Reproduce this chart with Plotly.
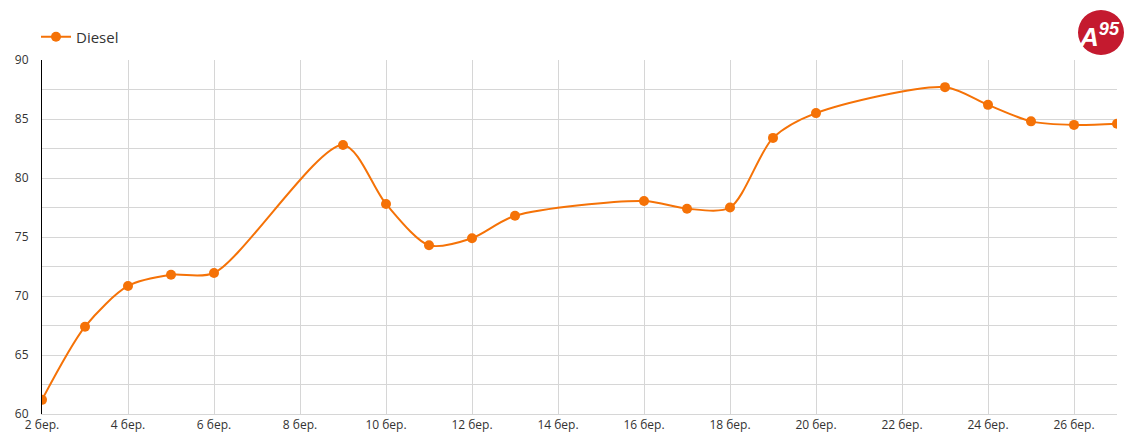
import plotly.graph_objects as go

dates = ["2024-03-02", "2024-03-03", "2024-03-04", "2024-03-05", "2024-03-06",
         "2024-03-09", "2024-03-10", "2024-03-11", "2024-03-12", "2024-03-13",
         "2024-03-16", "2024-03-17", "2024-03-18", "2024-03-19", "2024-03-20",
         "2024-03-23", "2024-03-24", "2024-03-25", "2024-03-26", "2024-03-27"]
diesel = [61.2, 67.4, 70.85, 71.8, 71.95,
          82.8, 77.8, 74.3, 74.9, 76.8,
          78.05, 77.4, 77.5, 83.4, 85.5,
          87.7, 86.2, 84.8, 84.5, 84.6]

tick_dates = ["2024-03-%02d" % d for d in range(2, 27, 2)]
tick_labels = ["%d бер." % d for d in range(2, 27, 2)]
y_ticks = [60, 65, 70, 75, 80, 85, 90]

orange = "#f57207"
FONT = "Open Sans"

OFF = 8  # page body margin
W, H = 1139 - OFF, 447 - OFF
L, R, T, B = 42 - OFF, 22, 60 - OFF, 33
PW, PH = W - L - R, H - T - B


def px(x):
    return (x - OFF - L) / PW


def py(y):
    return (H - B - (y - OFF)) / PH


fig = go.Figure()
fig.add_trace(go.Scatter(
    x=dates, y=diesel, name="Diesel", mode="lines+markers",
    line=dict(color=orange, width=2, shape="spline", smoothing=0.8),
    marker=dict(color=orange, size=10),
))

fig.update_layout(
    width=W, height=H,
    margin=dict(l=L, r=R, t=T, b=B, autoexpand=False),
    paper_bgcolor="white", plot_bgcolor="white",
    font=dict(family=FONT, size=12, color="#333333"),
    showlegend=True,
    legend=dict(x=px(36), y=py(37), xref="paper", yref="paper", xanchor="left", yanchor="middle",
                orientation="h", font=dict(size=15, color="#333333"),
                bgcolor="rgba(0,0,0,0)"),
    xaxis=dict(
        type="date", range=["2024-03-02", "2024-03-27"],
        tickvals=tick_dates, ticktext=tick_labels,
        showgrid=True, gridcolor="#d6d6d6", gridwidth=1,
        showline=True, linecolor="#d6d6d6", linewidth=1,
        ticks="", tickfont=dict(size=12, color="#333333"),
        zeroline=False, automargin=False,
    ),
    yaxis=dict(
        range=[60, 90], tickvals=y_ticks,
        showgrid=True, gridcolor="#d6d6d6", gridwidth=1,
        minor=dict(dtick=2.5, tick0=0, showgrid=True, gridcolor="#d6d6d6", gridwidth=1),
        showline=True, linecolor="black", linewidth=1,
        ticks="", ticklabelstandoff=10, tickfont=dict(size=12, color="#333333"),
        zeroline=False, automargin=False,
    ),
)

# Logo
fig.add_shape(type="circle", xref="paper", yref="paper",
              x0=px(1078), x1=px(1124), y0=py(55), y1=py(10),
              fillcolor="#c41a2f", line=dict(width=0), layer="below")
fig.add_annotation(xref="paper", yref="paper", x=px(1099), y=py(35),
                   xanchor="center", yanchor="middle",
                   text="<b><i>A<sup>95</sup></i></b>", showarrow=False,
                   font=dict(family="Liberation Sans", size=26, color="white"))

fig.write_html("out.html")
